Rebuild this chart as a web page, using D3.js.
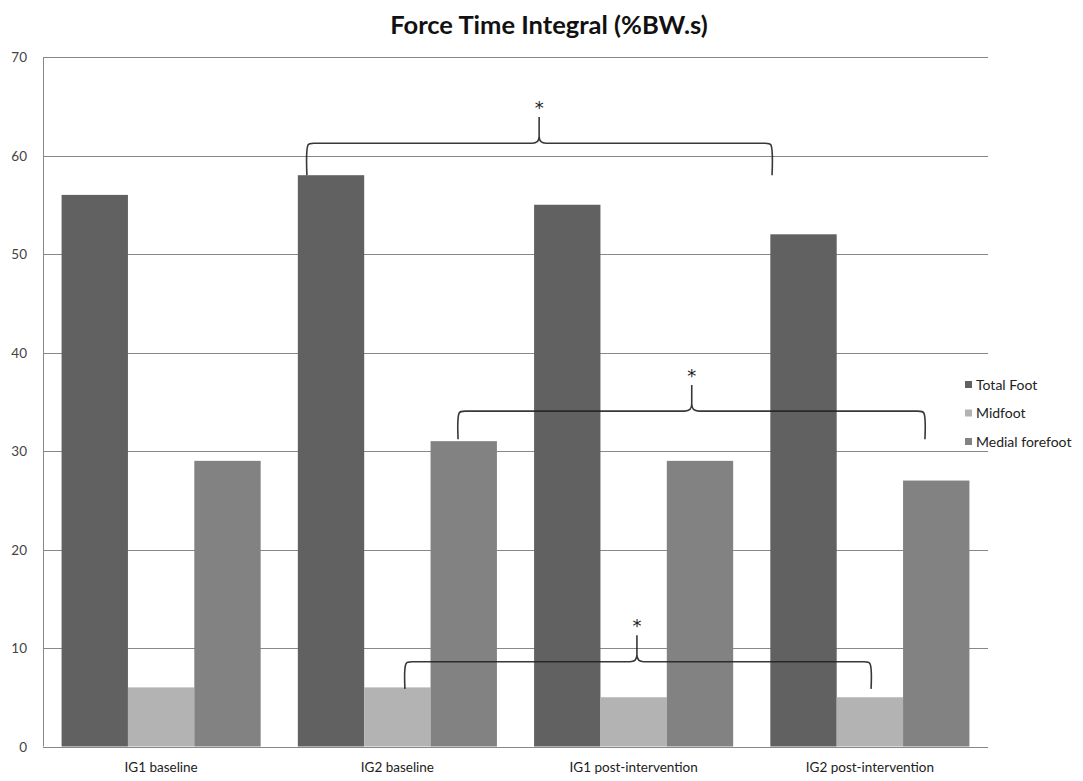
<!DOCTYPE html>
<html><head><meta charset="utf-8">
<script src="https://cdn.jsdelivr.net/npm/d3@7"></script>
<style>body{margin:0;background:#fff}svg{display:block}</style>
</head><body>
<svg id="chart" width="1083" height="781"></svg>
<script>
const categories = ["IG1 baseline", "IG2 baseline", "IG1 post-intervention", "IG2 post-intervention"];
const seriesNames = ["Total Foot", "Midfoot", "Medial forefoot"];
const totalFoot = [56, 58, 55, 52];
const midfoot = [6, 6, 5, 5];
const medialForefoot = [29, 31, 29, 27];
const yTicks = [0, 10, 20, 30, 40, 50, 60, 70];
// significance brackets: x in category-index units, y in data units
const bracketX1 = [1.117, 1.757, 1.532];
const bracketX2 = [3.086, 3.733, 3.505];
const bracketXm = [2.1, 2.746, 2.514];
const bracketTip = [58, 31.2, 5.85];
const bracketLine = [61.25, 34.05, 8.6];
const bracketPeak = [63.9, 36.7, 11.3];
const bracketLabel = ["*", "*", "*"];

const colors = ["#616161", "#b3b3b3", "#828282"];
const series = [totalFoot, midfoot, medialForefoot];

const svg = d3.select("#chart");
const L = 43, R = 988, T = 57, B = 746.5;
const FONT = "Lato, 'Open Sans', sans-serif";

const x0 = d3.scaleBand().domain(categories).range([L, R]).paddingInner(0).paddingOuter(0);
const x1 = d3.scaleBand().domain(seriesNames).range([0, x0.bandwidth()]).paddingInner(0).paddingOuter(0.28);
const y = d3.scaleLinear().domain([0, 70]).range([B, T]);
const xc = d3.scaleLinear().domain([0, 4]).range([L, R]);

// gridlines
svg.append("g").selectAll("line").data(yTicks).join("line")
  .attr("x1", L).attr("x2", R)
  .attr("y1", d => Math.round(y(d)) + 0.5).attr("y2", d => Math.round(y(d)) + 0.5)
  .attr("stroke", "#888").attr("stroke-width", 1);

// y axis line
svg.append("line").attr("x1", L + 0.5).attr("x2", L + 0.5).attr("y1", T).attr("y2", B)
  .attr("stroke", "#888");

// y tick labels
svg.append("g").selectAll("text").data(yTicks).join("text")
  .attr("x", 27).attr("y", d => y(d) + 5)
  .attr("text-anchor", "end")
  .attr("font-family", FONT).attr("font-size", 13.5)
  .attr("fill", "#444").text(d => d);

// bars
const g = svg.append("g");
categories.forEach((c, ci) => {
  series.forEach((s, si) => {
    g.append("rect")
      .attr("x", x0(c) + x1(seriesNames[si]))
      .attr("width", x1.bandwidth())
      .attr("y", y(s[ci]))
      .attr("height", y(0) - y(s[ci]))
      .attr("fill", colors[si]);
  });
});

// x axis line on top of bars
svg.append("line").attr("x1", L).attr("x2", R)
  .attr("y1", Math.round(y(0)) + 0.5).attr("y2", Math.round(y(0)) + 0.5)
  .attr("stroke", "#888");

// x labels
svg.append("g").selectAll("text").data(categories).join("text")
  .attr("x", d => x0(d) + x0.bandwidth() / 2).attr("y", 772)
  .attr("text-anchor", "middle")
  .attr("font-family", FONT).attr("font-size", 13.5)
  .attr("fill", "#222").text(d => d);

// title
svg.append("text").attr("x", 549).attr("y", 34).attr("text-anchor", "middle")
  .attr("font-family", FONT).attr("font-weight", "bold")
  .attr("font-size", 25.5).attr("fill", "#111").text("Force Time Integral (%BW.s)");

// legend
const lg = svg.append("g");
seriesNames.forEach((n, i) => {
  const yy = 385 + i * 28.5;
  lg.append("rect").attr("x", 965).attr("y", yy - 4).attr("width", 7).attr("height", 7).attr("fill", colors[i]);
  lg.append("text").attr("x", 976).attr("y", yy + 4.5)
    .attr("font-family", FONT).attr("font-size", 14)
    .attr("fill", "#222").text(n);
});

// brackets
const r = 7;
bracketX1.forEach((_, i) => {
  const xa = xc(bracketX1[i]), xb = xc(bracketX2[i]), xm = xc(bracketXm[i]);
  const yt = y(bracketTip[i]), yl = y(bracketLine[i]), yp = y(bracketPeak[i]);
  const p = d3.path();
  p.moveTo(xa, yt);
  p.quadraticCurveTo(xa - 1, yl + r, xa + 1, yl + 2);
  p.quadraticCurveTo(xa + 2, yl, xa + r, yl);
  p.lineTo(xm - r, yl);
  p.quadraticCurveTo(xm, yl, xm, yl - r);
  p.lineTo(xm, yp);
  p.moveTo(xm, yl - r);
  p.quadraticCurveTo(xm, yl, xm + r, yl);
  p.lineTo(xb - r, yl);
  p.quadraticCurveTo(xb - 2, yl, xb - 1, yl + 2);
  p.quadraticCurveTo(xb + 1, yl + r, xb, yt);
  svg.append("path").attr("d", p.toString()).attr("fill", "none")
    .attr("stroke", "#222").attr("stroke-width", 1.6).attr("stroke-opacity", 0.9);
  svg.append("text").attr("x", xm).attr("y", yp - 3).attr("text-anchor", "middle")
    .attr("font-family", "'DejaVu Sans', sans-serif").attr("font-size", 18)
    .attr("fill", "#222").text(bracketLabel[i]);
});
</script>
</body></html>
